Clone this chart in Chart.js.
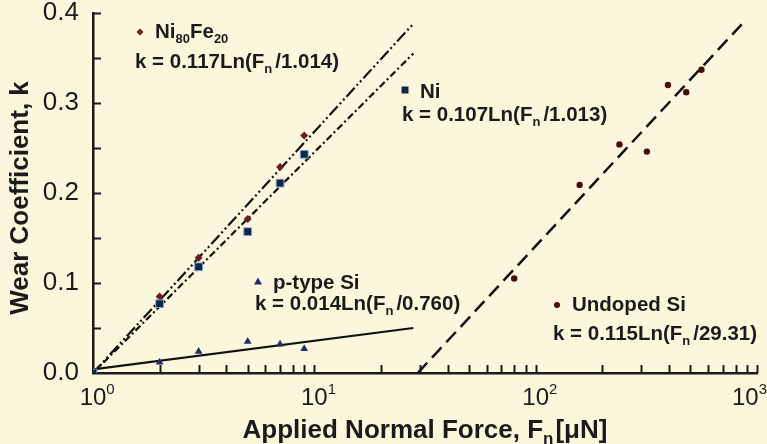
<!DOCTYPE html>
<html>
<head>
<meta charset="utf-8">
<script src="https://cdn.jsdelivr.net/npm/chart.js@4.4.1/dist/chart.umd.min.js"></script>
<style>
  html, body { margin: 0; padding: 0; background: #fcf7dc; }
  #wrap { width: 767px; height: 444px; }
</style>
</head>
<body>
<div id="wrap"><canvas id="chart" width="767" height="444"></canvas></div>
<script>
// Measured wear coefficients, k, against applied normal force, Fn [uN]
const forceNiFe = [1, 2, 3, 5, 7, 9];
const wearNiFe = [0, 0.085, 0.128, 0.171, 0.229, 0.264];

const forceNi = [1, 2, 3, 5, 7, 9];
const wearNi = [0, 0.077, 0.118, 0.157, 0.211, 0.243];

const forcePSi = [1, 2, 3, 5, 7, 9];
const wearPSi = [0, 0.012, 0.024, 0.035, 0.032, 0.027];

const forceUndoped = [80, 158, 239, 318, 396, 479, 561];
const wearUndoped = [0.105, 0.209, 0.254, 0.246, 0.320, 0.312, 0.337];

// Logarithmic fits k = a Ln(Fn / F0), evaluated at the ends of each drawn segment
const fitNiFeForce = [1, 28];
const fitNiFeWear = [0, 0.388];
const fitNiForce = [1, 28];
const fitNiWear = [0, 0.355];
const fitPSiForce = [1, 28];
const fitPSiWear = [0.004, 0.050];
const fitUndopedForce = [29.31, 880];
const fitUndopedWear = [0, 0.391];

// Axis ticks
const yTickValues = [0, 0.1, 0.2, 0.3, 0.4];
const xDecades = [0, 1, 2, 3];

const pts = (xs, ys) => xs.map((x, i) => ({ x: x, y: ys[i] }));

const FONT = "'Liberation Sans', Arial, Helvetica, sans-serif";
const INK = '#1b1b1b';
const BG = '#fcf7dc';

// Draws a run of text pieces; pieces flagged sub/sup are smaller and shifted
function drawRich(ctx, pieces, x, y, size, weight) {
  let cx = x;
  ctx.textBaseline = 'alphabetic';
  ctx.textAlign = 'left';
  for (const p of pieces) {
    let fs = size, dy = 0;
    if (p.sub) { fs = Math.round(size * 0.65); dy = size * 0.22; }
    if (p.sup) { fs = Math.round(size * 0.62); dy = -size * 0.45; }
    ctx.font = weight + ' ' + fs + 'px ' + FONT;
    ctx.fillText(p.t, cx, y + dy);
    cx += ctx.measureText(p.t).width + (p.gap || 0);
  }
  return cx;
}

function richWidth(ctx, pieces, size, weight) {
  let w = 0;
  for (const p of pieces) {
    const fs = p.sub ? Math.round(size * 0.65) : p.sup ? Math.round(size * 0.62) : size;
    ctx.font = weight + ' ' + fs + 'px ' + FONT;
    w += ctx.measureText(p.t).width + (p.gap || 0);
  }
  return w;
}

// Marker glyph drawn beside each series label
function drawMarker(ctx, kind, x, y, color) {
  ctx.save();
  ctx.fillStyle = color;
  ctx.beginPath();
  if (kind === 'diamond') {
    ctx.moveTo(x, y - 3.5); ctx.lineTo(x + 3.5, y); ctx.lineTo(x, y + 3.5); ctx.lineTo(x - 3.5, y);
  } else if (kind === 'square') {
    ctx.rect(x - 3.5, y - 3.5, 7, 7);
  } else if (kind === 'triangle') {
    ctx.moveTo(x, y - 4.5); ctx.lineTo(x + 4, y + 2.5); ctx.lineTo(x - 4, y + 2.5);
  } else {
    ctx.arc(x, y, 3, 0, Math.PI * 2);
  }
  ctx.closePath();
  ctx.fill();
  ctx.restore();
}

const annotations = [
  { marker: 'diamond', color: '#6e1c1c', mx: 140, my: 32,
    name: [{ t: 'Ni' }, { t: '80', sub: true }, { t: 'Fe' }, { t: '20', sub: true }], nx: 155, ny: 38,
    eq: [{ t: 'k = 0.117Ln(F' }, { t: 'n', sub: true, gap: 3 }, { t: '/1.014)' }], ex: 135, ey: 68 },
  { marker: 'square', color: '#0f2547', mx: 405, my: 90,
    name: [{ t: 'Ni' }], nx: 420, ny: 98,
    eq: [{ t: 'k = 0.107Ln(F' }, { t: 'n', sub: true, gap: 3 }, { t: '/1.013)' }], ex: 402, ey: 121 },
  { marker: 'triangle', color: '#1d2f68', mx: 258, my: 282,
    name: [{ t: 'p-type Si' }], nx: 273, ny: 289,
    eq: [{ t: 'k = 0.014Ln(F' }, { t: 'n', sub: true, gap: 3 }, { t: '/0.760)' }], ex: 255, ey: 310 },
  { marker: 'circle', color: '#4a0d0d', mx: 557, my: 305,
    name: [{ t: 'Undoped Si' }], nx: 572, ny: 311,
    eq: [{ t: 'k = 0.115Ln(F' }, { t: 'n', sub: true, gap: 3 }, { t: '/29.31)' }], ex: 553, ey: 340 }
];

const decorPlugin = {
  id: 'decor',
  beforeDraw(chart) {
    const ctx = chart.ctx;
    ctx.save();
    ctx.fillStyle = BG;
    ctx.fillRect(0, 0, chart.width, chart.height);
    ctx.restore();
  },
  afterDraw(chart) {
    const ctx = chart.ctx;
    const xs = chart.scales.x, ys = chart.scales.y;
    const area = chart.chartArea;
    ctx.save();
    ctx.strokeStyle = INK;
    ctx.lineWidth = 2;
    // inward ticks on the k axis every 0.05
    for (let v = 0.05; v <= 0.4001; v += 0.05) {
      const py = Math.round(ys.getPixelForValue(v)) + 0.5;
      ctx.beginPath(); ctx.moveTo(area.left, py); ctx.lineTo(area.left + 8, py); ctx.stroke();
    }
    // inward ticks on the force axis, 2..10 in each decade
    for (const d of [0, 1, 2]) {
      for (let m = 2; m <= 10; m++) {
        const px = Math.round(xs.getPixelForValue(m * Math.pow(10, d))) + 0.5;
        ctx.beginPath(); ctx.moveTo(px, area.bottom); ctx.lineTo(px, area.bottom - 8); ctx.stroke();
      }
    }
    // decade labels 10^n
    ctx.fillStyle = INK;
    for (const d of xDecades) {
      const px = xs.getPixelForValue(Math.pow(10, d));
      const pieces = [{ t: '10' }, { t: String(d), sup: true }];
      ctx.font = '24px ' + FONT;
      const w = ctx.measureText('10').width;
      const total = richWidth(ctx, pieces, 24, 'normal');
      let left = px - w / 2;
      if (left + total > chart.width) left = chart.width - total;
      drawRich(ctx, pieces, left, 405, 24, 'normal');
    }
    // axis titles
    const xt = [{ t: 'Applied Normal Force, F' }, { t: 'n', sub: true, gap: 2 }, { t: '[\u03BCN]' }];
    const tw = richWidth(ctx, xt, 26, 'bold');
    drawRich(ctx, xt, 425 - tw / 2, 438, 26, 'bold');

    ctx.save();
    ctx.translate(28, 198);
    ctx.rotate(-Math.PI / 2);
    ctx.font = 'bold 26px ' + FONT;
    ctx.textAlign = 'center';
    ctx.textBaseline = 'alphabetic';
    ctx.fillText('Wear Coefficient, k', 0, 0);
    ctx.restore();

    // series labels with their fitted equations
    for (const a of annotations) {
      drawMarker(ctx, a.marker, a.mx, a.my, a.color);
      ctx.fillStyle = INK;
      drawRich(ctx, a.name, a.nx, a.ny, 20.5, 'bold');
      drawRich(ctx, a.eq, a.ex, a.ey, 20.5, 'bold');
    }
    ctx.restore();
  }
};

const fitLine = (data, dash, width) => ({
  type: 'scatter', data: data, showLine: true, pointRadius: 0,
  borderColor: '#111', borderWidth: width, borderDash: dash, fill: false, order: 5
});

new Chart(document.getElementById('chart'), {
  type: 'scatter',
  data: {
    datasets: [
      fitLine(pts(fitNiFeForce, fitNiFeWear), [12, 3, 2, 3, 2, 3], 2.2),
      fitLine(pts(fitNiForce, fitNiWear), [7, 3, 2, 3], 2.2),
      fitLine(pts(fitPSiForce, fitPSiWear), [], 2.2),
      fitLine(pts(fitUndopedForce, fitUndopedWear), [14, 7], 2.5),
      { label: 'p-type Si', data: pts(forcePSi, wearPSi), pointStyle: 'triangle', pointRadius: 4.5,
        backgroundColor: '#1d2f68', borderColor: '#1d2f68', borderWidth: 0, order: 3 },
      { label: 'Ni80Fe20', data: pts(forceNiFe, wearNiFe), pointStyle: 'rectRot', pointRadius: 4,
        backgroundColor: '#6e1c1c', borderColor: '#6e1c1c', borderWidth: 0, order: 2 },
      { label: 'Ni', data: pts(forceNi, wearNi), pointStyle: 'rect', pointRadius: 5.5,
        backgroundColor: '#0f2547', borderColor: '#7ea6cf', borderWidth: 1, order: 1 },
      { label: 'Undoped Si', data: pts(forceUndoped, wearUndoped), pointStyle: 'circle', pointRadius: 3.2,
        backgroundColor: '#4a0d0d', borderColor: '#4a0d0d', borderWidth: 0, order: 1 }
    ]
  },
  options: {
    responsive: false,
    devicePixelRatio: 1,
    animation: false,
    layout: { padding: { top: 13, right: 10, left: 0, bottom: 0 } },
    plugins: { legend: { display: false }, tooltip: { enabled: false } },
    scales: {
      x: {
        type: 'logarithmic', min: 1, max: 1000,
        grid: { display: false, drawTicks: false },
        border: { display: true, color: INK, width: 2.5 },
        ticks: { display: false },
        afterFit(scale) {
          scale.height = 71;
          scale.paddingLeft = 0; scale.paddingRight = 0;
        }
      },
      y: {
        type: 'linear', min: 0, max: 0.4,
        grid: { display: false, drawTicks: false },
        border: { display: true, color: INK, width: 2.5 },
        afterBuildTicks(scale) { scale.ticks = yTickValues.map(v => ({ value: v })); },
        ticks: {
          color: INK, padding: 14,
          font: { family: FONT, size: 26 },
          callback: v => Number(v).toFixed(1)
        },
        afterFit(scale) {
          scale.width = 93;
          scale.paddingTop = 0; scale.paddingBottom = 0;
        }
      }
    }
  },
  plugins: [decorPlugin]
});
</script>
</body>
</html>
